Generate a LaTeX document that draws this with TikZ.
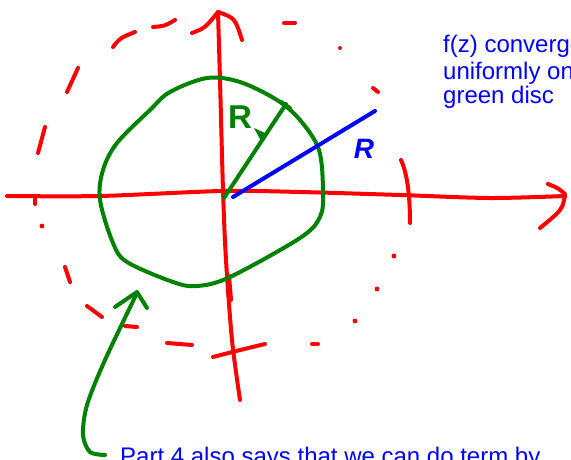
\documentclass[tikz,border=0pt]{standalone}
\usepackage{fontspec}
\setmainfont{Liberation Sans}
\definecolor{pred}{RGB}{255,0,0}
\definecolor{pgreen}{RGB}{0,130,0}
\definecolor{pblue}{RGB}{0,0,255}
\begin{document}
\begin{tikzpicture}[x=1pt,y=-1pt,
  pen/.style={line width=4pt, line cap=round, line join=round},
  redpen/.style={pen, draw=pred},
  greenpen/.style={pen, draw=pgreen},
  bluepen/.style={pen, draw=pblue},
  dot/.style={fill=pred, draw=none},
  note/.style={text=pblue, font=\fontsize{24}{28}\selectfont, inner sep=0pt, anchor=base west}]
\useasboundingbox (0,0) rectangle (571,460);
\clip (0,0) rectangle (571,460);

% dashed outer circle (red)
\draw[redpen] (38,153) -- (45,127);
\draw[redpen] (67,92) -- (78,68);
\draw[redpen] (113,47) .. controls (120,38) .. (135,32);
\draw[redpen] (153,27) .. controls (165,26) .. (175,20);
\draw[redpen] (284,23) -- (295,23);
\fill[dot] (340,48) circle (2pt);
\draw[redpen] (373,88) -- (378,92);
\fill[dot] (394,256) circle (2.4pt);
\fill[dot] (377,289) circle (2.4pt);
\fill[dot] (355,321) circle (2.4pt);
\draw[redpen] (312,344) -- (318,344);
\fill[dot] (42,226) circle (2.4pt);
\draw[redpen] (35,198) -- (35,204);
\draw[redpen] (65,267) -- (70,282);
\draw[redpen] (87,306) -- (102,317);
\draw[redpen] (125,326) -- (137,327);
\draw[redpen] (167,343) -- (192,345);
\draw[redpen] (401,160) .. controls (408,175) and (410,200) .. (410,223);
\draw[redpen] (213,357) .. controls (240,350) .. (265,344);

% axes
\draw[redpen] plot[smooth] coordinates {(7,196) (100,196) (222,191) (300,192) (400,195) (490,198) (565,196)};
\draw[redpen] (548,184) .. controls (558,188) .. (565,194);
\draw[redpen] (565,196) .. controls (562,210) .. (540,228);
\draw[redpen] plot[smooth] coordinates {(240,400) (232,340) (226,260) (223,190) (220,80) (218,12)};
\draw[redpen] (192,33) .. controls (205,28) .. (218,12);
\draw[redpen] (218,12) .. controls (235,18) .. (242,40);
\draw[redpen] (229,276) -- (231,300);

% green disc
\draw[greenpen] plot[smooth cycle, tension=0.55] coordinates {(100,200) (113,243) (127,262) (173,282) (197,286) (230,277) (300,238) (320,217) (323,192) (319,150) (300,120) (277,100) (240,82) (207,78) (170,92) (150,110) (117,143) (103,170)};

% radius R (green)
\draw[greenpen] (224,198) -- (286,104);
\draw[greenpen] (281,102) -- (290,108);
\fill[pgreen] (254,128) -- (265,133) -- (261,141) -- cycle;
\node[text=pgreen, font=\fontsize{33}{33}\selectfont\bfseries, inner sep=0pt] (Rg) at (240,117) {R};

% radius r (blue)
\draw[bluepen] (233,197) -- (375,111);
\node[text=pblue, font=\fontsize{28}{28}\selectfont\bfseries\itshape, inner sep=0pt] (Rb) at (364,149) {R};

% green arrow
\draw[greenpen] plot[smooth] coordinates {(105,455) (90,452) (83,435) (87,405) (105,360) (137,293)};
\draw[greenpen] (115,307) -- (137,292) -- (147,308);

% text
\node[note] (t1) at (443,53) {f(z) converges};
\node[note] (t2) at (443,80) {uniformly on};
\node[note] (t3) at (443,104) {green disc};
\node[note] (t4) at (120,464) {Part 4 also says that we can do term by};
\end{tikzpicture}
\end{document}
